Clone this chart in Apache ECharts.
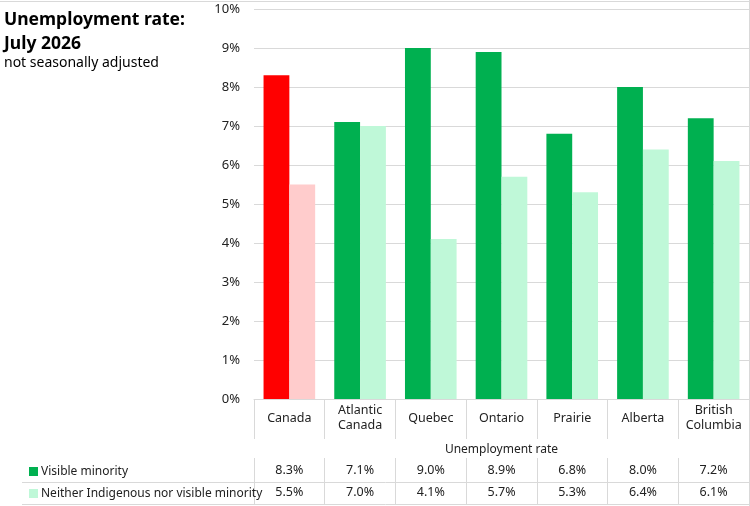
<!DOCTYPE html>
<html>
<head>
<meta charset="utf-8">
<script src="https://cdn.jsdelivr.net/npm/echarts@6/dist/echarts.min.js"></script>
<style>
  html, body { margin: 0; padding: 0; background: #fff; }
  #main { width: 750px; height: 506px; }
</style>
</head>
<body>
<div id="main"></div>
<script>
// regions along the x axis
var regions = ['Canada', 'Atlantic\nCanada', 'Quebec', 'Ontario', 'Prairie', 'Alberta', 'British\nColumbia'];
// unemployment rate, %
var visibleMinority = [8.3, 7.1, 9.0, 8.9, 6.8, 8.0, 7.2];
var neitherGroup = [5.5, 7.0, 4.1, 5.7, 5.3, 6.4, 6.1];
var seriesNames = ['Visible minority', 'Neither Indigenous nor visible minority'];
var yTicks = [0, 1, 2, 3, 4, 5, 6, 7, 8, 9, 10];

var font = 'Noto Sans';
var gridColor = '#d9d9d9';
var green = '#00b050', lightGreen = '#bff8d8';
var red = '#ff0000', pink = '#ffcccc';

var chart = echarts.init(document.getElementById('main'));

function pct(v) { return v.toFixed(1) + '%'; }

var option = {
  animation: false,
  textStyle: { fontFamily: font },
  title: {
    left: -1,
    top: 3,
    text: 'Unemployment rate:\nJuly 2026',
    textStyle: { fontSize: 17.5, fontWeight: 'bold', color: '#000', lineHeight: 24, fontFamily: font },
    subtext: 'not seasonally adjusted',
    subtextStyle: { fontSize: 14, color: '#000', fontFamily: font },
    itemGap: 0
  },
  legend: {
    orient: 'vertical',
    left: 29,
    top: 465,
    padding: 0,
    itemWidth: 9,
    itemHeight: 9,
    itemGap: 9,
    icon: 'rect',
    selectedMode: false,
    textStyle: { fontSize: 12, color: '#222', lineHeight: 13, padding: [0, 0, 0, -2] },
    data: seriesNames
  },
  grid: { left: 254, right: 1, top: 9, bottom: 107 },
  xAxis: [
    {
      type: 'category',
      data: regions,
      name: 'Unemployment rate',
      nameLocation: 'middle',
      nameGap: 45,
      nameTextStyle: { fontSize: 12, color: '#222' },
      axisLine: { lineStyle: { color: gridColor } },
      axisTick: { show: true, length: 40, interval: 0, lineStyle: { color: gridColor } },
      axisLabel: { interval: 0, fontSize: 12.5, color: '#222', verticalAlign: 'middle', margin: 19, lineHeight: 15 }
    },
    {
      type: 'category',
      data: visibleMinority.map(pct),
      position: 'bottom',
      offset: 59,
      axisLine: { show: false },
      axisTick: { show: true, length: 47, interval: 0, lineStyle: { color: gridColor } },
      axisLabel: { interval: 0, fontSize: 12.5, color: '#222', verticalAlign: 'middle', margin: 12 }
    },
    {
      type: 'category',
      data: neitherGroup.map(pct),
      position: 'bottom',
      offset: 83,
      axisLine: { show: false },
      axisTick: { show: false },
      axisLabel: { interval: 0, fontSize: 12.5, color: '#222', verticalAlign: 'middle', margin: 10 }
    }
  ],
  yAxis: {
    type: 'value',
    min: yTicks[0],
    max: yTicks[yTicks.length - 1],
    interval: 1,
    axisLine: { show: false },
    axisTick: { show: false },
    splitLine: { lineStyle: { color: gridColor } },
    axisLabel: { fontSize: 13, color: '#222', margin: 14, formatter: '{value}%' }
  },
  series: [
    {
      name: seriesNames[0],
      type: 'bar',
      xAxisIndex: 0,
      barGap: '0%',
      barCategoryGap: '27%',
      itemStyle: { color: green },
      data: visibleMinority.map(function (v, i) {
        return i === 0 ? { value: v, itemStyle: { color: red } } : v;
      })
    },
    {
      name: seriesNames[1],
      type: 'bar',
      xAxisIndex: 0,
      itemStyle: { color: lightGreen },
      data: neitherGroup.map(function (v, i) {
        return i === 0 ? { value: v, itemStyle: { color: pink } } : v;
      })
    }
  ],
  graphic: [
    { type: 'line', shape: { x1: 22, y1: 482.5, x2: 749, y2: 482.5 }, style: { stroke: gridColor, lineWidth: 1 } },
    { type: 'line', shape: { x1: 22, y1: 504.5, x2: 749, y2: 504.5 }, style: { stroke: gridColor, lineWidth: 1 } },
    { type: 'line', shape: { x1: 0, y1: 1.5, x2: 750, y2: 1.5 }, style: { stroke: gridColor, lineWidth: 1 } },
    { type: 'line', shape: { x1: 749.5, y1: 0, x2: 749.5, y2: 506 }, style: { stroke: gridColor, lineWidth: 1 } }
  ]
};

chart.setOption(option);
</script>
</body>
</html>
